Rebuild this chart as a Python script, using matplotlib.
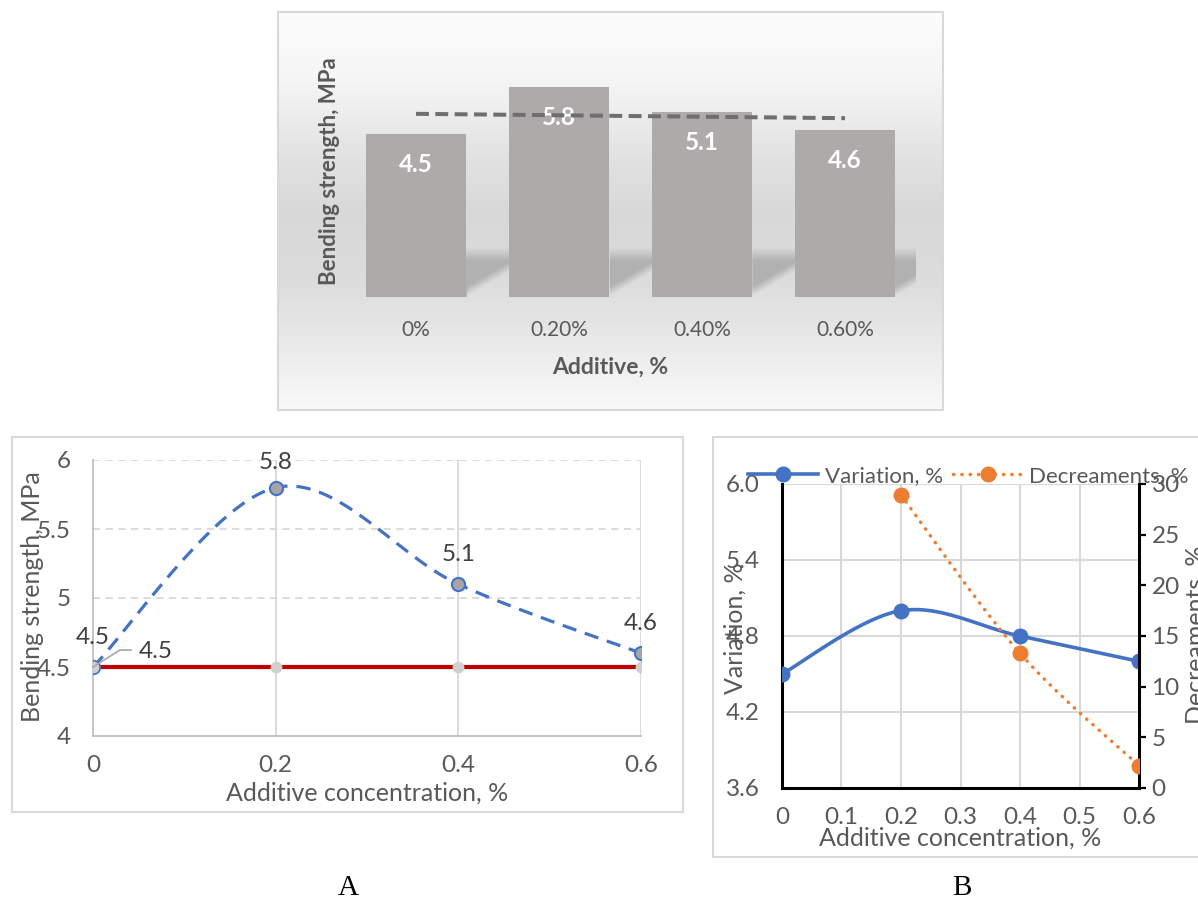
import numpy as np
import matplotlib.pyplot as plt
from matplotlib.patches import Rectangle
from matplotlib.lines import Line2D

plt.rcParams['font.family'] = ['Lato', 'DejaVu Sans']

# bending strength by additive content
categories = ['0%', '0.20%', '0.40%', '0.60%']
strength = [4.5, 5.8, 5.1, 4.6]

# concentration axis and the reference (no additive) level
conc = [0, 0.2, 0.4, 0.6]
reference = [4.5, 4.5, 4.5, 4.5]
a_yticks = [4, 4.5, 5, 5.5, 6]
a_ylabels = ['4', '4.5', '5', '5.5', '6']

# variation and decrement series
variation = [4.5, 5.0, 4.8, 4.6]
decr_x = [0.2, 0.4, 0.6]
decrement = [28.9, 13.3, 2.2]
b_xticks = [0, 0.1, 0.2, 0.3, 0.4, 0.5, 0.6]
b_yticks = [3.6, 4.2, 4.8, 5.4, 6.0]
b_y2ticks = [0, 5, 10, 15, 20, 25, 30]

W, H = 1198, 901
GREY_TXT = '#595959'
FS_TICK = 17.5
FS_TITLE = 18


def rect(l, t, r, b):
    return [l / W, 1 - b / H, (r - l) / W, (b - t) / H]


def fpos(x, y):
    return x / W, 1 - y / H


def smooth(x, y, n=40):
    # bezier smoothing through the points, like the office "smoothed line"
    p = np.column_stack([x, y]).astype(float)
    p = np.vstack([p[0], p, p[-1]])
    t = np.linspace(0, 1, n)[:, None]
    segs = []
    for i in range(1, len(p) - 2):
        p0, p1, p2, p3 = p[i - 1], p[i], p[i + 1], p[i + 2]
        c1 = p1 + (p2 - p0) / 6
        c2 = p2 - (p3 - p1) / 6
        segs.append((1 - t) ** 3 * p1 + 3 * (1 - t) ** 2 * t * c1
                    + 3 * (1 - t) * t ** 2 * c2 + t ** 3 * p2)
    return np.vstack(segs)


fig = plt.figure(figsize=(W / 100, H / 100), dpi=100)

# ---------------- top: bar chart ----------------
bg = fig.add_axes(rect(278, 12, 943, 410), zorder=-1)
ys = np.arange(12, 411)
shade = np.interp(ys, [12, 80, 150, 212, 280, 330, 410],
                  [0.985, 0.96, 0.89, 0.845, 0.86, 0.9, 0.975])
bg.imshow(shade[:, None], extent=(0, 1, 0, 1), aspect='auto', cmap='gray',
          vmin=0, vmax=1)
bg.set_xticks([])
bg.set_yticks([])
for s in bg.spines.values():
    s.set_color('#d9d9d9')
    s.set_linewidth(1.5)

ax = fig.add_axes(rect(330, 60, 930, 297))
ax.patch.set_alpha(0)
ax.axis('off')
px_x, px_y = 143.0, 36.2  # pixels per category / per MPa
ax.set_xlim((330 - 416) / px_x, (930 - 416) / px_x)
ax.set_ylim(0, (297 - 60) / px_y)

xs = np.arange(len(categories))
width = 0.706

# soft floor shadow cast to the right of the bars
gx = np.linspace(466, 916, 451)
gy = np.linspace(240, 297, 58)
GX, GY = np.meshgrid(gx, gy)
rights = 416 + px_x * xs + width * px_x / 2
dx = GX - rights[np.searchsorted(rights, GX, side='right') - 1].reshape(GX.shape)
h = 297 - GY
a = np.clip((50 - h) / 14, 0, 1) * np.clip((h - dx * 0.6) / 10, 0, 1)
img = np.zeros(GX.shape + (4,))
img[..., :3] = 0.45
img[..., 3] = 0.4 * a
ax.imshow(img, extent=((466 - 416) / px_x, (916 - 416) / px_x, 0, 57 / px_y),
          origin='upper', aspect='auto', zorder=1, interpolation='bilinear')

ax.bar(xs, strength, width=width, color='#aeaaaa', zorder=3)
for i, v in enumerate(strength):
    ax.text(i, v - 30 / px_y, f'{v:g}', ha='center', va='center', color='white',
            fontsize=17.5, fontweight='bold', zorder=3.5)
coef = np.polyfit(xs, strength, 1)
ax.plot([xs[0], xs[-1]], np.polyval(coef, [xs[0], xs[-1]]), color='#6e6e6e',
        lw=2.9, ls=(0, (3.2, 1.6)), zorder=4)
for i, c in enumerate(categories):
    ax.text(i, -(330 - 297) / px_y, c, ha='center', va='center', fontsize=15,
            color=GREY_TXT, clip_on=False)
fig.text(*fpos(610, 367), 'Additive, %', ha='center', va='center', fontsize=16.5,
         fontweight='bold', color=GREY_TXT)
fig.text(*fpos(329, 171), 'Bending strength, MPa', ha='center', va='center',
         rotation=90, fontsize=16, fontweight='bold', color=GREY_TXT)

# ---------------- A: strength vs concentration ----------------
fig.patches.append(Rectangle(fpos(12, 812), 671 / W, 375 / H, transform=fig.transFigure,
                             fc='white', ec='#d9d9d9', lw=1.5, zorder=-2))
axA = fig.add_axes(rect(93, 460, 641, 736))
axA.set_xlim(0, 0.6)
axA.set_ylim(4, 6)
for y in a_yticks[1:]:
    axA.axhline(y, color='#d9d9d9', lw=1.3, ls=(0, (4, 3)), zorder=1)
for x in conc[1:]:
    axA.axvline(x, color='#d9d9d9', lw=1.3, zorder=1)
for side in ['top', 'right']:
    axA.spines[side].set_visible(False)
for side in ['left', 'bottom']:
    axA.spines[side].set_color('#bfbfbf')
    axA.spines[side].set_linewidth(1.3)
axA.set_xticks(conc, [f'{c:g}' for c in conc])
axA.set_yticks(a_yticks, a_ylabels)
axA.tick_params(length=0, labelsize=FS_TICK, labelcolor=GREY_TXT)
axA.tick_params(axis='x', pad=13.5)
axA.tick_params(axis='y', pad=16)

axA.plot(conc, reference, color='#c00000', lw=3, zorder=3)
curve = smooth(conc, strength)
axA.plot(curve[:, 0], curve[:, 1], color='#4472c4', lw=2.3, ls=(0, (4.5, 2.8)), zorder=4)
axA.plot(conc, strength, 'o', ms=9.5, mfc='#a5a5a5', mec='#4472c4', mew=1.5, zorder=4.5)
axA.plot(conc, reference, 'o', ms=8.5, mfc='#d0d0d0', mec='none', zorder=5)
for x, v in zip(conc, strength):
    off = 25 if v == max(strength) else 30
    axA.annotate(f'{v:g}', (x, v), xytext=(0, off), textcoords='offset pixels',
                 ha='center', va='center', fontsize=FS_TICK, color='#404040')
# leader to the label of the reference level
sx, sy = 0.6 / 548, 2 / 276
axA.plot([0, 27 * sx, 38 * sx], [reference[0], reference[0] + 17 * sy, reference[0] + 17 * sy],
         color='#a6a6a6', lw=1.2, zorder=5, clip_on=False)
axA.annotate(f'{reference[0]:g}', (0, reference[0]), xytext=(46, 15),
             textcoords='offset pixels', ha='left', va='center', fontsize=FS_TICK,
             color='#404040')
fig.text(*fpos(367, 793), 'Additive concentration, %', ha='center', va='center',
         fontsize=FS_TITLE, color=GREY_TXT)
fig.text(*fpos(33, 597), 'Bending strength, MPa', ha='center', va='center',
         rotation=90, fontsize=FS_TITLE, color=GREY_TXT)

# ---------------- B: variation and decrement ----------------
fig.patches.append(Rectangle(fpos(713, 857), 500 / W, 420 / H, transform=fig.transFigure,
                             fc='white', ec='#d9d9d9', lw=1.5, zorder=-2))
axB = fig.add_axes(rect(782, 484, 1139, 788))
axB.set_xlim(0, 0.6)
axB.set_ylim(3.6, 6.0)
for x in b_xticks[1:-1]:
    axB.axvline(x, color='#d9d9d9', lw=1.5, zorder=1)
for y in b_yticks[1:]:
    axB.axhline(y, color='#d9d9d9', lw=1.5, zorder=1)
axB.spines['top'].set_visible(False)
axB.spines['right'].set_visible(False)
for side in ['left', 'bottom']:
    axB.spines[side].set_color('black')
    axB.spines[side].set_linewidth(2.2)
axB.set_xticks(b_xticks, [f'{x:g}' for x in b_xticks])
axB.set_yticks(b_yticks, [f'{y:.1f}' for y in b_yticks])
axB.tick_params(length=0, labelsize=FS_TICK, labelcolor=GREY_TXT)
axB.tick_params(axis='x', pad=14)
axB.tick_params(axis='y', pad=16)

ax2 = axB.twinx()
ax2.set_ylim(0, 30)
for side in ['top', 'left', 'bottom']:
    ax2.spines[side].set_visible(False)
ax2.spines['right'].set_color('black')
ax2.spines['right'].set_linewidth(2.2)
ax2.set_yticks(b_y2ticks, [str(v) for v in b_y2ticks])
ax2.tick_params(direction='out', length=5, width=1.6, color='black', labelsize=FS_TICK,
                labelcolor=GREY_TXT, pad=4)

vcurve = smooth(conc, variation)
axB.plot(vcurve[:, 0], vcurve[:, 1], color='#4472c4', lw=2.6, zorder=4)
axB.plot(conc, variation, 'o', ms=10.5, color='#4472c4', zorder=5)
dcurve = smooth(decr_x, decrement)
ax2.plot(dcurve[:, 0], dcurve[:, 1], color='#ed7d31', lw=2.5, ls=(0, (0.1, 2.3)),
         dash_capstyle='round', zorder=4)
ax2.plot(decr_x, decrement, 'o', ms=10.5, color='#ed7d31', zorder=5)

handles = [Line2D([], [], color='#4472c4', lw=2.6, marker='o', ms=10.5),
           Line2D([], [], color='#ed7d31', lw=2.5, ls=(0, (0.1, 2.3)),
                  dash_capstyle='round', marker='o', ms=10.5)]
fig.legend(handles, ['Variation, %', 'Decreaments, %'], loc='center left',
           bbox_to_anchor=fpos(748, 476), ncol=2, frameon=False, fontsize=16,
           handlelength=3.15, handletextpad=0.3, columnspacing=0.45, borderpad=0,
           borderaxespad=0, labelcolor=GREY_TXT)
fig.text(*fpos(960, 838), 'Additive concentration, %', ha='center', va='center',
         fontsize=FS_TITLE, color=GREY_TXT)
fig.text(*fpos(735, 628), 'Variation, %', ha='center', va='center', rotation=90,
         fontsize=FS_TITLE, color=GREY_TXT)
fig.text(*fpos(1196, 635), 'Decreaments, %', ha='center', va='center', rotation=90,
         fontsize=FS_TITLE, color=GREY_TXT)

fig.text(*fpos(348, 888), 'A', ha='center', va='center', fontsize=21,
         family='Liberation Serif', color='black')
fig.text(*fpos(962, 888), 'B', ha='center', va='center', fontsize=21,
         family='Liberation Serif', color='black')

fig.savefig('out.png', dpi=100)
